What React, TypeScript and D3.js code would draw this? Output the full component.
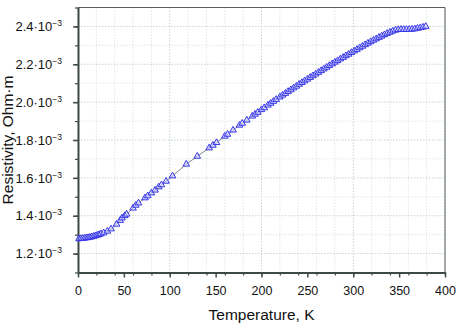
import React, { useEffect, useRef } from 'react'
import * as d3 from 'd3'

// temperature, K
const temperature = [1, 3, 5, 7, 9, 11, 13, 15, 17, 19, 21, 23, 25, 28, 32, 36, 42, 46, 48, 51, 53, 60, 63, 66, 73, 76, 80, 84, 88, 91, 96, 103, 118, 130, 143, 147, 151, 160, 163, 169, 176, 179, 184, 190, 193, 196, 200, 203, 207, 210, 213, 216, 220, 223, 226, 229, 232, 235, 238, 241, 244, 247, 250, 253, 256, 259, 262, 265, 268, 271, 274, 277, 280, 283, 286, 289, 292, 295, 298, 301, 304, 307, 310, 313, 316, 319, 322, 325, 328, 331, 334, 337, 340, 343, 346, 349, 352, 355, 358, 361, 364, 367, 370, 373, 376, 379]
// resistivity, 1e-3 Ohm·m
const resistivity = [1.278, 1.279, 1.280, 1.281, 1.283, 1.284, 1.286, 1.288, 1.291, 1.294, 1.297, 1.300, 1.304, 1.309, 1.318, 1.330, 1.355, 1.375, 1.388, 1.400, 1.408, 1.440, 1.455, 1.467, 1.494, 1.505, 1.520, 1.535, 1.552, 1.563, 1.582, 1.610, 1.672, 1.714, 1.758, 1.772, 1.786, 1.820, 1.830, 1.852, 1.878, 1.888, 1.905, 1.926, 1.936, 1.946, 1.960, 1.970, 1.984, 1.994, 2.004, 2.014, 2.027, 2.037, 2.046, 2.056, 2.065, 2.075, 2.084, 2.094, 2.103, 2.112, 2.121, 2.130, 2.139, 2.148, 2.157, 2.166, 2.175, 2.184, 2.193, 2.202, 2.211, 2.219, 2.228, 2.236, 2.245, 2.253, 2.262, 2.270, 2.278, 2.287, 2.295, 2.303, 2.311, 2.319, 2.327, 2.334, 2.342, 2.349, 2.356, 2.363, 2.369, 2.375, 2.380, 2.383, 2.384, 2.384, 2.384, 2.384, 2.385, 2.387, 2.390, 2.393, 2.396, 2.400]

const xTicks = [0, 50, 100, 150, 200, 250, 300, 350, 400]
const yTicks = [1.2, 1.4, 1.6, 1.8, 2.0, 2.2, 2.4]

export default function App(){
  const svgRef = useRef<SVGSVGElement>(null)

  useEffect(()=>{
    const width = 457, height = 325, m = {top:7.5, right:12, bottom:52.5, left:78}
    const svg = d3.select(svgRef.current)
    svg.selectAll('*').remove()
    const font = 'Liberation Sans, Arial, sans-serif'

    const x = d3.scaleLinear().domain([0, 400]).range([m.left, width - m.right])
    const y = d3.scaleLinear().domain([1.1, 2.5]).range([height - m.bottom, m.top])

    // grid (minor then major)
    const grid = svg.append('g')
    const xMinor = x.ticks(16), yMinor = y.ticks(14)
    grid.selectAll('line.vx').data(xMinor).join('line')
      .attr('x1', d=>x(d)).attr('x2', d=>x(d)).attr('y1', m.top).attr('y2', height - m.bottom)
      .attr('stroke', d=>xTicks.includes(d) ? '#c8d3d3' : '#e0e7e7')
      .attr('stroke-dasharray','1.5,1.5')
    grid.selectAll('line.hy').data(yMinor).join('line')
      .attr('y1', d=>y(d)).attr('y2', d=>y(d)).attr('x1', m.left).attr('x2', width - m.right)
      .attr('stroke', d=>yTicks.some(t=>Math.abs(t-d)<1e-6) ? '#c8d3d3' : '#e0e7e7')
      .attr('stroke-dasharray','1.5,1.5')

    // frame top/right
    svg.append('path')
      .attr('d', `M${m.left},${m.top}H${width-m.right}V${height-m.bottom}`)
      .attr('fill','none').attr('stroke','#56605f').attr('stroke-width',1)

    // x axis
    const xMin = svg.append('g').attr('transform',`translate(0,${height-m.bottom})`)
      .call(d3.axisBottom(x).tickValues(xMinor).tickSize(3).tickFormat(()=>''))
    xMin.select('.domain').remove()
    xMin.selectAll('line').attr('stroke','#3e4a4a').attr('stroke-width',1.2)
    const xAx = svg.append('g').attr('transform',`translate(0,${height-m.bottom})`)
      .call(d3.axisBottom(x).tickValues(xTicks).tickSize(5).tickSizeOuter(0).tickPadding(9))
    xAx.select('.domain').attr('stroke','#3e4a4a').attr('stroke-width',2)
    xAx.selectAll('line').attr('stroke','#3e4a4a').attr('stroke-width',1.5)
    xAx.selectAll('text').attr('fill','#111').attr('font-size',12.5).attr('font-family',font)

    // y axis
    const yMin = svg.append('g').attr('transform',`translate(${m.left},0)`)
      .call(d3.axisLeft(y).tickValues(yMinor).tickSize(3).tickFormat(()=>''))
    yMin.select('.domain').remove()
    yMin.selectAll('line').attr('stroke','#3e4a4a').attr('stroke-width',1.2)
    const yAx = svg.append('g').attr('transform',`translate(${m.left},0)`)
      .call(d3.axisLeft(y).tickValues(yTicks).tickSize(5).tickSizeOuter(0).tickPadding(11))
    yAx.select('.domain').attr('stroke','#3e4a4a').attr('stroke-width',2)
    yAx.selectAll('line').attr('stroke','#3e4a4a').attr('stroke-width',1.5)
    yAx.selectAll<SVGTextElement, number>('text')
      .attr('fill','#111').attr('font-size',13).attr('font-family',font)
      .each(function(d){
        const t = d3.select(this).text('')
        t.append('tspan').text(`${d3.format('.1f')(d)}·10`)
        t.append('tspan').attr('font-size',8.5).attr('dy',-5).text('−3')
      })

    // axis titles
    svg.append('text')
      .attr('x', (m.left + width - m.right)/2).attr('y', 320)
      .attr('text-anchor','middle').attr('font-size',15.5).attr('font-family',font).attr('fill','#111')
      .text('Temperature, K')
    svg.append('text')
      .attr('transform',`translate(13,${(m.top + height - m.bottom)/2}) rotate(-90)`)
      .attr('text-anchor','middle').attr('font-size',15.5).attr('font-family',font).attr('fill','#111')
      .text('Resistivity, Ohm·m')

    // data
    const pts = temperature.map((t,i)=>[t, resistivity[i]] as [number, number])
    svg.append('path')
      .datum(pts)
      .attr('d', d3.line<[number,number]>().x(d=>x(d[0])).y(d=>y(d[1])))
      .attr('fill','none').attr('stroke','#7d8585').attr('stroke-width',1)

    const tri = d3.symbol(d3.symbolTriangle, 19)
    svg.append('g').selectAll('path').data(pts).join('path')
      .attr('transform', d=>`translate(${x(d[0])},${y(d[1])})`)
      .attr('d', tri)
      .attr('fill','rgba(215,215,255,0.6)')
      .attr('stroke','#3535e8').attr('stroke-width',1)
  },[])

  return <svg ref={svgRef} width={457} height={325} style={{position:'absolute', left:0, top:0, background:'#fff'}} />
}
